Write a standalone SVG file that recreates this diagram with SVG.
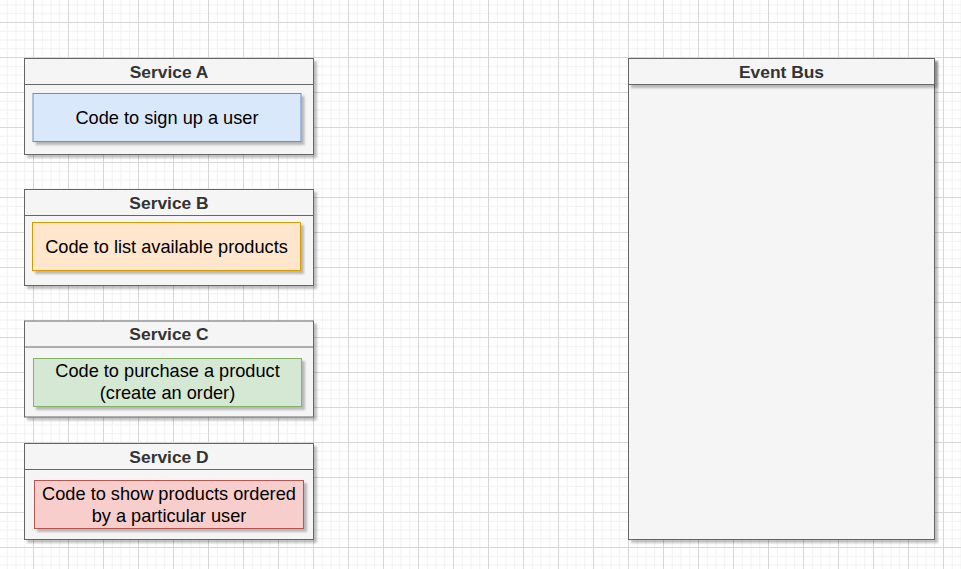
<svg xmlns="http://www.w3.org/2000/svg" width="961" height="569" viewBox="0 0 961 569">
<defs>
<pattern id="grid" x="-2" y="22" width="35" height="35" patternUnits="userSpaceOnUse">
<path d="M9.25 0V35M18 0V35M26.75 0V35M0 9.25H35M0 18H35M0 26.75H35" stroke="#f1f1f1" stroke-width="1" fill="none"/>
<path d="M0.5 0V35M0 0.5H35" stroke="#d6d6d6" stroke-width="1" fill="none"/>
</pattern>
<filter id="sh" x="-10%" y="-10%" width="130%" height="130%">
<feGaussianBlur in="SourceAlpha" stdDeviation="0.8"/>
<feOffset dx="3" dy="3" result="o"/>
<feComponentTransfer><feFuncA type="linear" slope="0.25"/></feComponentTransfer>
<feMerge><feMergeNode/><feMergeNode in="SourceGraphic"/></feMerge>
</filter>
</defs>
<style>
.svc{fill:#f5f5f5;stroke:#666666;stroke-width:1;filter:url(#sh)}
.hdr{fill:none;stroke:#666666;stroke-width:1}
.ttl{font-family:"Liberation Sans",Arial,sans-serif;font-weight:bold;font-size:17.4px;fill:#333333;text-anchor:middle;dominant-baseline:central}
.txt{font-family:"Liberation Sans",Arial,sans-serif;font-size:18.2px;fill:#000000;text-anchor:middle;dominant-baseline:central}
.blue{fill:#dae8fc;stroke:#6c8ebf;filter:url(#sh)}
.orange{fill:#ffe6cc;stroke:#d79b00;filter:url(#sh)}
.green{fill:#d5e8d4;stroke:#82b366;filter:url(#sh)}
.red{fill:#f8cecc;stroke:#b85450;filter:url(#sh)}
</style>
<rect width="961" height="569" fill="#ffffff"/>
<rect width="961" height="569" fill="url(#grid)"/>

<g id="serviceA">
<rect class="svc" x="24.5" y="58.5" width="289" height="96"/>
<line class="hdr" x1="24.5" y1="84.5" x2="313.5" y2="84.5"/>
<text class="ttl" x="169" y="72">Service A</text>
<rect class="blue" x="33" y="93.5" width="268" height="48"/>
<text class="txt" x="167" y="118">Code to sign up a user</text>
</g>

<g id="serviceB">
<rect class="svc" x="24.5" y="189.5" width="289" height="96"/>
<line class="hdr" x1="24.5" y1="215.5" x2="313.5" y2="215.5"/>
<text class="ttl" x="169" y="203">Service B</text>
<rect class="orange" x="32.5" y="222.5" width="268" height="48"/>
<text class="txt" x="166.5" y="247">Code to list available products</text>
</g>

<g id="serviceC">
<rect class="svc" x="24.5" y="321" width="289" height="96"/>
<line class="hdr" x1="24.5" y1="347" x2="313.5" y2="347"/>
<text class="ttl" x="169" y="334">Service C</text>
<rect class="green" x="33.5" y="358.5" width="268" height="48"/>
<text class="txt" x="167.5" y="371">Code to purchase a product</text>
<text class="txt" x="167.5" y="393">(create an order)</text>
</g>

<g id="serviceD">
<rect class="svc" x="24.5" y="443.5" width="289" height="96"/>
<line class="hdr" x1="24.5" y1="469.5" x2="313.5" y2="469.5"/>
<text class="ttl" x="169" y="457">Service D</text>
<rect class="red" x="34.5" y="480.5" width="269" height="48"/>
<text class="txt" x="169" y="494">Code to show products ordered</text>
<text class="txt" x="169" y="516">by a particular user</text>
</g>

<g id="eventBus">
<rect class="svc" x="628.5" y="58.5" width="306" height="481"/>
<rect class="svc" x="628.5" y="58.5" width="306" height="26"/>
<text class="ttl" x="781.5" y="72">Event Bus</text>
</g>

<g id="connectors"></g>
</svg>
